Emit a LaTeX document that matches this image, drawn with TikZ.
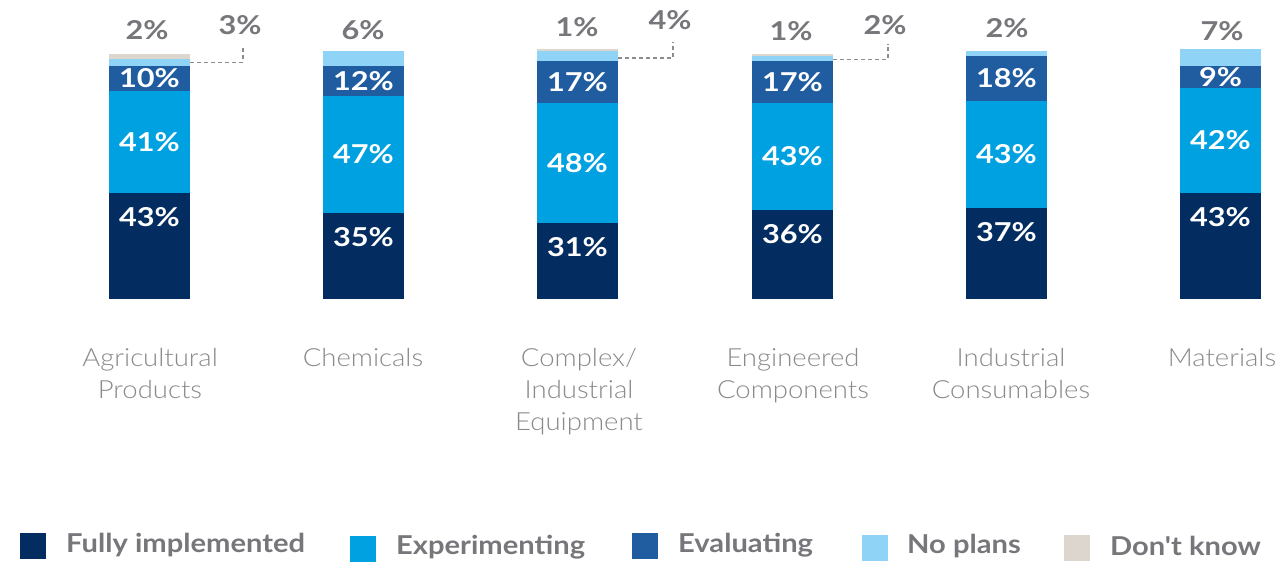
\documentclass[tikz,border=0pt]{standalone}
\usepackage{fontspec}
\setmainfont{Lato}
\newfontfamily\numfont{Lato}[FakeStretch=1.18]
\newfontfamily\catfont{Lato Light}[FakeStretch=1.1]
\newfontfamily\legfont{Lato}[FakeStretch=1.12]
\definecolor{cFI}{HTML}{032D60}
\definecolor{cEX}{HTML}{00A1E0}
\definecolor{cEV}{HTML}{1F5CA0}
\definecolor{cNP}{HTML}{8FD3F6}
\definecolor{cDK}{HTML}{DDD6CF}
\definecolor{cGray}{HTML}{77767B}
\definecolor{cCat}{HTML}{8A8A8E}
\definecolor{cLead}{HTML}{8C8C8C}
\tikzset{
  seg/.style={rectangle, inner sep=0pt, outer sep=0pt, minimum width=81pt, anchor=north west, draw=none, text=white, font=\numfont\bfseries\fontsize{26}{28}\selectfont},
  inlab/.style={inner sep=0pt, text=white, font=\numfont\bfseries\fontsize{26}{28}\selectfont},
  toplab/.style={inner sep=0pt, text=cGray, font=\numfont\bfseries\fontsize{26}{28}\selectfont},
  catlab/.style={inner sep=0pt, anchor=north, align=center, text=cCat, font=\catfont\fontsize{25}{32}\selectfont},
  legsq/.style={rectangle, inner sep=0pt, outer sep=0pt, minimum size=26pt, anchor=north west},
  legtxt/.style={inner sep=0pt, anchor=west, text=cGray, font=\legfont\bfseries\fontsize{26}{28}\selectfont},
  leader/.style={draw=cLead, line width=1.2pt, dash pattern=on 4pt off 3pt}
}
\newcommand\barseg[6]{\node[seg, fill=#5, minimum height={#4-#3}] (#1) at (#2,#3) {#6};}
\begin{document}
\begin{tikzpicture}[x=1pt,y=-1pt]
\useasboundingbox[fill=white] (0,0) rectangle (1279,564);
% Bar 1: Agricultural Products
\barseg{dk1}{109}{54}{59}{cDK}{}
\barseg{np1}{109}{59}{66}{cNP}{}
\barseg{ev1}{109}{66}{91}{cEV}{10\%}
\barseg{ex1}{109}{91}{193}{cEX}{41\%}
\barseg{fi1}{109}{193}{299}{cFI}{}
\node[inlab] (fl1) at ([yshift=-24pt]fi1.north) {43\%};
\node[toplab] (tdk1) at (147,30) {2\%};
\node[toplab] (tnp1) at (240,25) {3\%};
\coordinate (c1) at (243,46);
\draw[leader] (np1.east) -| (c1);
% Bar 2: Chemicals
\barseg{np2}{323}{51}{66}{cNP}{}
\barseg{ev2}{323}{66}{96}{cEV}{12\%}
\barseg{ex2}{323}{96}{213}{cEX}{47\%}
\barseg{fi2}{323}{213}{299}{cFI}{}
\node[inlab] (fl2) at ([yshift=-24pt]fi2.north) {35\%};
\node[toplab] (tnp2) at (363,30) {6\%};
% Bar 3: Complex/Industrial Equipment
\barseg{dk3}{537}{49}{51}{cDK}{}
\barseg{np3}{537}{51}{61}{cNP}{}
\barseg{ev3}{537}{61}{103}{cEV}{17\%}
\barseg{ex3}{537}{103}{223}{cEX}{48\%}
\barseg{fi3}{537}{223}{299}{cFI}{}
\node[inlab] (fl3) at ([yshift=-24pt]fi3.north) {31\%};
\node[toplab] (tdk3) at (577,27) {1\%};
\node[toplab] (tnp3) at (670,20) {4\%};
\coordinate (c3) at (673,42);
\draw[leader] ([yshift=-2pt]np3.east) -| (c3);
% Bar 4: Engineered Components
\barseg{dk4}{752}{54}{56}{cDK}{}
\barseg{np4}{752}{56}{61}{cNP}{}
\barseg{ev4}{752}{61}{103}{cEV}{17\%}
\barseg{ex4}{752}{103}{210}{cEX}{43\%}
\barseg{fi4}{752}{210}{299}{cFI}{}
\node[inlab] (fl4) at ([yshift=-24pt]fi4.north) {36\%};
\node[toplab] (tdk4) at (791,31) {1\%};
\node[toplab] (tnp4) at (885,25) {2\%};
\coordinate (c4) at (888,44);
\draw[leader] ([yshift=-1pt]np4.east) -| (c4);
% Bar 5: Industrial Consumables
\barseg{np5}{966}{51}{56}{cNP}{}
\barseg{ev5}{966}{56}{101}{cEV}{18\%}
\barseg{ex5}{966}{101}{208}{cEX}{43\%}
\barseg{fi5}{966}{208}{299}{cFI}{}
\node[inlab] (fl5) at ([yshift=-24pt]fi5.north) {37\%};
\node[toplab] (tnp5) at (1007,28) {2\%};
% Bar 6: Materials
\barseg{np6}{1180}{49}{66}{cNP}{}
\barseg{ev6}{1180}{66}{88}{cEV}{9\%}
\barseg{ex6}{1180}{88}{193}{cEX}{42\%}
\barseg{fi6}{1180}{193}{299}{cFI}{}
\node[inlab] (fl6) at ([yshift=-24pt]fi6.north) {43\%};
\node[toplab] (tnp6) at (1222,31) {7\%};
% Category labels
\node[catlab] (cat1) at (150,348) {Agricultural\\Products};
\node[catlab] (cat2) at (363,348) {Chemicals};
\node[catlab] (cat3) at (579,348) {Complex/\\Industrial\\Equipment};
\node[catlab] (cat4) at (793,348) {Engineered\\Components};
\node[catlab] (cat5) at (1011,348) {Industrial\\Consumables};
\node[catlab] (cat6) at (1222,348) {Materials};
% Legend
\node[legsq, fill=cFI] (lsq1) at (20,533) {};
\node[legtxt] (ltx1) at (66,545) {Fully implemented};
\node[legsq, fill=cEX] (lsq2) at (350,536) {};
\node[legtxt] (ltx2) at (396,547) {Experimenting};
\node[legsq, fill=cEV] (lsq3) at (632,533) {};
\node[legtxt] (ltx3) at (678,545) {Evaluating};
\node[legsq, fill=cNP] (lsq4) at (862,535) {};
\node[legtxt] (ltx4) at (907,546) {No plans};
\node[legsq, fill=cDK] (lsq5) at (1064,535) {};
\node[legtxt] (ltx5) at (1110,546) {Don't know};
\end{tikzpicture}
\end{document}
